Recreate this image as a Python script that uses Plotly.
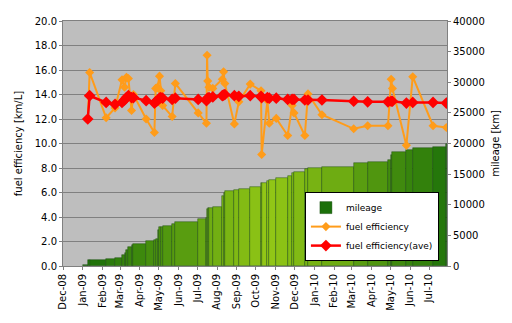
import plotly.graph_objects as go
import pandas as pd

# ---- data ----
dates = [
    "2009-01-01", "2009-01-09", "2009-01-12", "2009-02-07", "2009-02-21", "2009-03-04",
    "2009-03-08", "2009-03-11", "2009-03-14", "2009-03-19", "2009-03-22", "2009-04-11",
    "2009-04-24", "2009-04-26", "2009-04-29", "2009-05-02", "2009-05-04", "2009-05-07",
    "2009-05-22", "2009-05-27", "2009-07-02", "2009-07-15", "2009-07-16", "2009-07-17",
    "2009-07-19", "2009-07-25", "2009-08-09", "2009-08-11", "2009-08-13", "2009-08-28",
    "2009-09-04", "2009-09-22", "2009-10-09", "2009-10-10", "2009-10-19", "2009-10-22",
    "2009-11-02", "2009-11-20", "2009-11-27", "2009-11-30", "2009-12-17", "2009-12-22",
    "2010-01-13", "2010-03-04", "2010-03-26", "2010-04-27", "2010-05-02", "2010-05-04",
    "2010-05-26", "2010-06-05", "2010-07-07", "2010-07-28",
]
fuel_efficiency = [
    None, 12.0, 15.8, 12.1, 12.9, 15.2,
    14.6, 15.4, 15.3, 12.7, 14.0, 12.0,
    10.9, 14.5, 14.6, 15.5, 14.3, 13.1,
    12.2, 14.9, 12.5, 11.65, 17.2, 15.1,
    14.6, 14.5, 15.25, 15.85, 14.9, 11.6,
    13.4, 14.85, 14.3, 9.1, 13.5, 11.65,
    12.05, 10.65, 13.1, 12.5, 10.65, 14.05,
    12.35, 11.2, 11.45, 11.45, 15.25, 14.5,
    9.85, 15.45, 11.45, 11.3,
]
fuel_efficiency_ave = [
    None, 12.0, 13.9, 13.35, 13.2, 13.35,
    13.55, 13.75, 13.9, 13.75, 13.75, 13.5,
    13.3, 13.4, 13.5, 13.7, 13.75, 13.7,
    13.6, 13.7, 13.6, 13.5, 13.65, 13.7,
    13.75, 13.8, 13.9, 13.95, 14.0, 13.9,
    13.85, 13.9, 13.85, 13.75, 13.75, 13.7,
    13.7, 13.6, 13.6, 13.6, 13.55, 13.55,
    13.55, 13.45, 13.4, 13.4, 13.45, 13.45,
    13.3, 13.35, 13.35, 13.3,
]
mileage = [
    100, 950, 1000, 1150, 1350, 1750,
    2200, 2600, 3050, 3400, 3650, 4030,
    4200, 4400, 5900, 6300, 6400, 6450,
    6900, 7200, 7600, 7780, 9250, 9400,
    9500, 9650, 11500, 11850, 12200, 12400,
    12600, 12930, 13480, 13600, 13860, 14020,
    14300, 14680, 15110, 15380, 15760, 15920,
    16190, 16740, 16950, 17280, 18100, 18600,
    18900, 19200, 19460, 19890,
]
x_start = "2008-12-01"
x_end = "2010-07-29"

# ---- derived layout helpers ----
dt = pd.to_datetime(dates)
ends = list(dt[1:]) + [pd.Timestamp(x_end)]
widths = [(e - s).total_seconds() * 1000 for s, e in zip(dt, ends)]

# horizontal gradient: dark green at the edges, light yellow-green in the middle
dark = (28, 112, 10)
light = (148, 200, 22)
t0, t1 = dt[0].value, pd.Timestamp(x_end).value
mid = (t0 + t1) / 2
half = (t1 - t0) / 2
colors = []
for s in dt:
    f = min(1.0, abs(s.value - mid) / half)
    c = [round(light[k] + (dark[k] - light[k]) * f) for k in range(3)]
    colors.append(f"rgb({c[0]},{c[1]},{c[2]})")

FONT = "DejaVu Sans"

fig = go.Figure()
fig.add_trace(go.Bar(
    x=dates, y=mileage, width=widths, offset=0, name="mileage",
    marker=dict(color=colors, line=dict(color="rgba(20,70,10,0.7)", width=0.6)),
    yaxis="y",
))
fig.add_trace(go.Scatter(
    x=dates, y=fuel_efficiency, name="fuel efficiency", mode="lines+markers",
    line=dict(color="#FF9C1A", width=2),
    marker=dict(symbol="diamond", size=7, color="#FF9C1A"),
    yaxis="y2",
))
fig.add_trace(go.Scatter(
    x=dates, y=fuel_efficiency_ave, name="fuel efficiency(ave)", mode="lines+markers",
    line=dict(color="#FF0000", width=2.5),
    marker=dict(symbol="diamond", size=9, color="#FF0000"),
    yaxis="y2",
))

fig.update_layout(
    width=512, height=323,
    margin=dict(l=63, r=55, t=21, b=57),
    paper_bgcolor="white",
    plot_bgcolor="#BEBEBE",
    font=dict(family=FONT, size=10, color="black"),
    bargap=0,
    showlegend=True,
    legend=dict(
        x=0.63, y=0.02, xanchor="left", yanchor="bottom",
        bgcolor="white", bordercolor="black", borderwidth=1,
        font=dict(family=FONT, size=9), tracegroupgap=0,
        itemwidth=30,
    ),
    xaxis=dict(
        type="date", range=[x_start, x_end],
        tick0=x_start, dtick="M1", tickformat="%b-%y", tickangle=-90,
        showgrid=False, showline=True, linecolor="#808080", mirror=True,
        ticks="outside", ticklen=3, tickcolor="#808080",
        tickfont=dict(size=10),
    ),
    yaxis=dict(
        side="right", range=[0, 40000], dtick=5000, tickformat="d",
        showgrid=False, showline=True, linecolor="#808080",
        ticks="outside", ticklen=3, tickcolor="#808080",
        title=dict(text="mileage [km]", standoff=8, font=dict(size=10)),
        zeroline=False,
    ),
    yaxis2=dict(
        side="left", overlaying="y", range=[0, 20], dtick=2, tickformat=".1f",
        showgrid=True, gridcolor="#808080", gridwidth=1,
        showline=True, linecolor="#808080",
        ticks="outside", ticklen=3, tickcolor="#808080",
        title=dict(text="fuel efficiency [km/L]", standoff=10, font=dict(size=10)),
        zeroline=False,
    ),
)

fig.write_html("out.html")
